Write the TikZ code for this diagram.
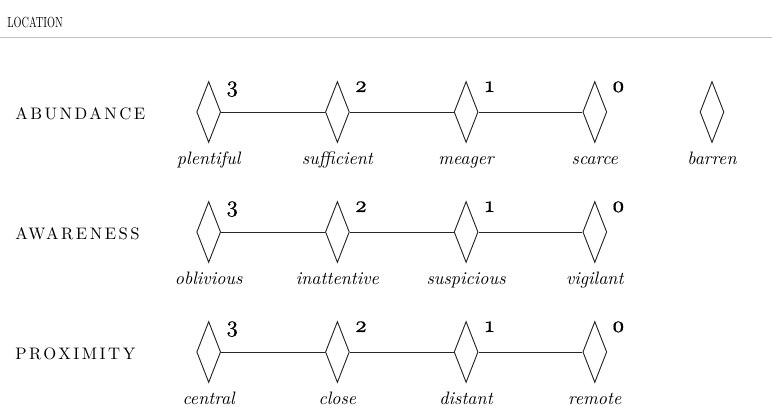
\documentclass[tikz,border=0pt]{standalone}
\usepackage{fontspec}
\setmainfont{lmroman10-regular.otf}[ItalicFont=lmroman10-italic.otf, BoldFont=lmroman10-bold.otf]
\usetikzlibrary{shapes.geometric,positioning}

\begin{document}
\begin{tikzpicture}[x=0.75pt,y=0.75pt,
    gem/.style={diamond, draw=black!85, line width=0.7pt, minimum width=18pt, minimum height=45.75pt, inner sep=0pt},
    grade/.style={anchor=base, font=\fontsize{17}{19}\selectfont\addfontfeatures{Numbers=OldStyle,FakeBold=0.35}},
    word/.style={anchor=base, font=\fontsize{13.5}{16}\selectfont\itshape},
    rowname/.style={anchor=base west, inner sep=0pt, font=\fontsize{12.5}{14}\selectfont\addfontfeatures{LetterSpace=15}},
    heading/.style={anchor=base west, inner sep=0pt, font=\fontsize{11}{13}\selectfont\addfontfeatures{FakeStretch=0.7}}]
    \useasboundingbox (0,0) rectangle (772,417);
    % header
    \node[heading] (title) at (7,389.5) {LOCATION};
    \coordinate (rulel) at (0,379.5);
    \coordinate (ruler) at (772,379.5);
    \draw[black!25, line width=0.8pt] (rulel) -- (ruler);
    % one row per scale
    \foreach \y/\name/\words [count=\r] in {305/ABUNDANCE/{plentiful,sufficient,meager,scarce},
                                            185/AWARENESS/{oblivious,inattentive,suspicious,vigilant},
                                            65/PROXIMITY/{central,close,distant,remote}} {
        \node[rowname] (s\r) at (15,\y-8) {\name};
        \foreach \w [count=\i] in \words {
            \pgfmathtruncatemacro\g{4-\i}
            \node[gem] (d\r\i) at (208.7+128.7*\i-128.7,\y) {};
            \node[grade] (g\r\i) at (232.2+128.7*\i-128.7,\y+20) {\g};
            \node[word] (w\r\i) at (208.7+128.7*\i-128.7,\y-53) {\w};
        }
        \foreach \i [evaluate=\i as \j using int(\i+1)] in {1,2,3} {
            \draw[black!85, line width=0.7pt] (d\r\i.east) -- (d\r\j.west);
        }
    }
    % extra level, not joined
    \node[gem] (d15) at (712,305) {};
    \node[word] (w15) at (712,252) {barren};
\end{tikzpicture}
\end{document}
